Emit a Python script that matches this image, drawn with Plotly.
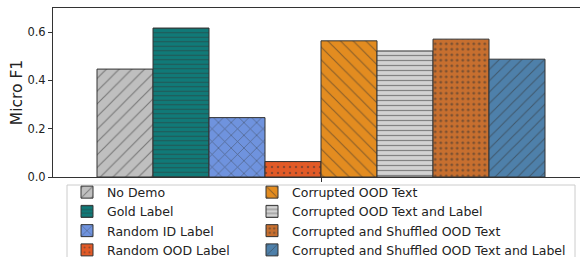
import plotly.graph_objects as go

# ---- data ----
categories = ["No Demo", "Gold Label", "Random ID Label", "Random OOD Label",
              "Corrupted OOD Text", "Corrupted OOD Text and Label",
              "Corrupted and Shuffled OOD Text", "Corrupted and Shuffled OOD Text and Label"]
micro_f1 = [0.447, 0.617, 0.246, 0.064, 0.564, 0.522, 0.571, 0.488]
y_ticks = [0.0, 0.2, 0.4, 0.6]
y_tick_labels = ["0.0", "0.2", "0.4", "0.6"]

# ---- styles ----
colors = ["#bfbfbf", "#107a78", "#6f93de", "#e25a27",
          "#e38c20", "#d2d2d2", "#c76f2f", "#4e80aa"]
shapes_ = ["/", "-", "x", ".", "\\", "-", ".", "/"]
sizes = [9, 4.5, 9, 6, 9, 5, 5.5, 8]
solid = [0.13, 0.25, 0.16, 0.14, 0.13, 0.25, 0.22, 0.14]

W, H = 580, 257
ml, mt, mb, mr = 53, 8, 80, 0
pw, ph = W - ml - mr, H - mt - mb

fig = go.Figure()
for i in range(len(categories)):
    col1 = i < 4
    fig.add_trace(go.Bar(
        x=[i], y=[micro_f1[i]], width=1, name=categories[i],
        marker=dict(color=colors[i], line=dict(color="#333333", width=1),
                    pattern=dict(shape=shapes_[i], size=sizes[i], solidity=solid[i],
                                 fgcolor="#333333", fillmode="overlay")),
        legendgroup="c1" if col1 else "c2",
        legendwidth=140 if col1 else None,
        showlegend=True,
    ))

fig.update_layout(
    width=W, height=H,
    margin=dict(l=ml, r=mr, t=mt, b=mb, autoexpand=False),
    plot_bgcolor="white", paper_bgcolor="white",
    barmode="overlay",
    font=dict(family="DejaVu Sans", size=11, color="#222222"),
    showlegend=True,
    legend=dict(orientation="h", traceorder="grouped",
                xref="container", yref="container",
                x=67 / W, xanchor="left",
                y=1 - 177.5 / H, yanchor="top",
                bgcolor="rgba(255,255,255,0)", borderwidth=0,
                font=dict(size=12.5, color="#222222"),
                tracegroupgap=0),
    xaxis=dict(range=[-1.286, 8.125], showgrid=False, zeroline=False, automargin=False,
               showline=True, linecolor="#333333", linewidth=1, mirror=True,
               tickvals=[3.5], ticktext=[""], ticks="outside", ticklen=4,
               tickcolor="#333333"),
    yaxis=dict(range=[0, 0.7], showgrid=False, zeroline=False, automargin=False,
               showline=True, linecolor="#333333", linewidth=1, mirror=False,
               tickvals=y_ticks, ticktext=y_tick_labels, ticks="outside",
               ticklen=4, tickcolor="#333333",
               tickfont=dict(size=11.5, color="#222222"),
               title=dict(text="Micro F1", font=dict(size=15.5, color="#222222"), standoff=0)),
)

fig.add_shape(type="rect", xref="paper", yref="paper",
              x0=(67 - ml) / pw, x1=(575 - ml) / pw,
              y0=(mt + ph - 262) / ph, y1=(mt + ph - 185) / ph,
              line=dict(color="#cccccc", width=1), fillcolor="rgba(0,0,0,0)", layer="below")

fig.write_html("out.html", config={"displayModeBar": False},
               post_script="document.body.style.margin='0';document.body.style.overflow='hidden';")
